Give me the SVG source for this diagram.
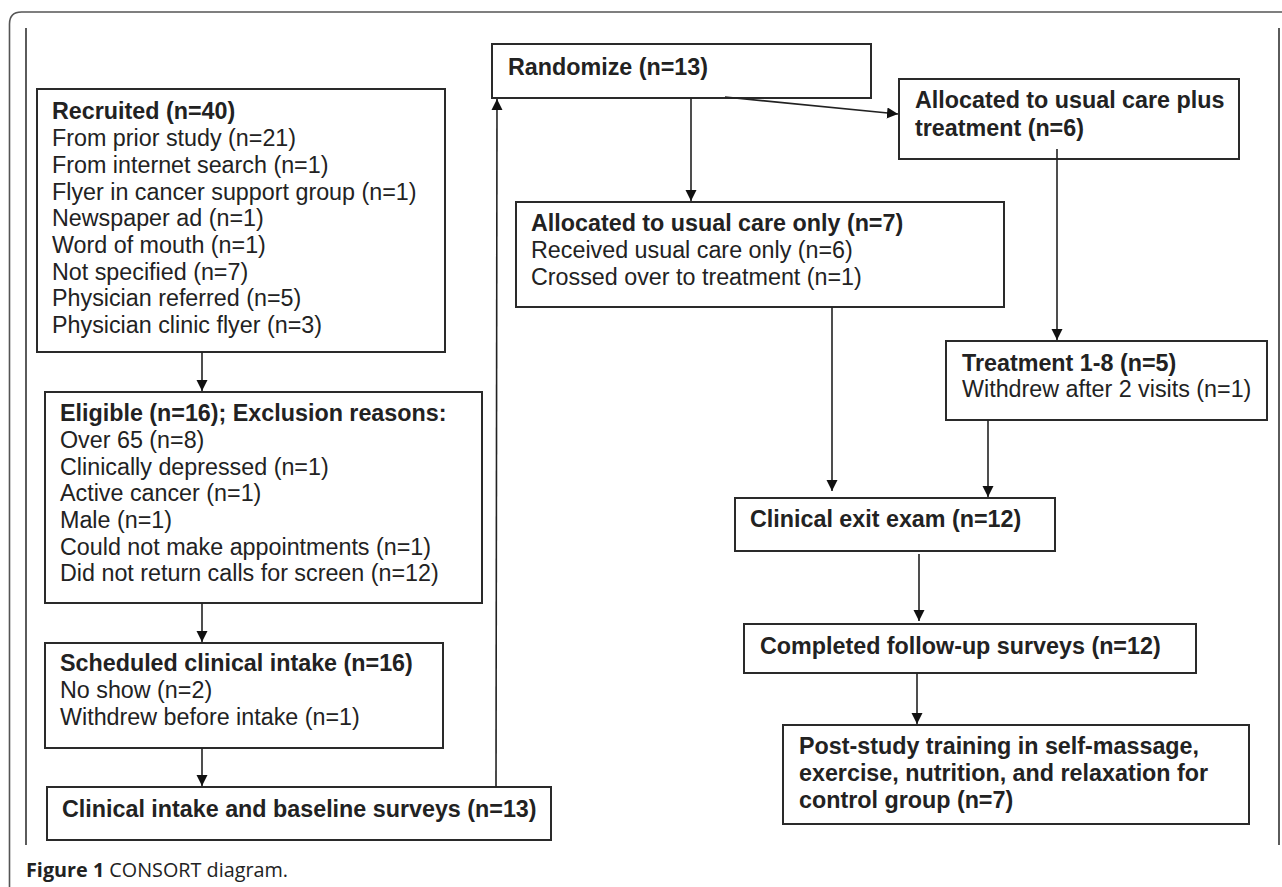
<svg xmlns="http://www.w3.org/2000/svg" width="1282" height="887" viewBox="0 0 1282 887">
<defs>
<style>
.box{fill:#fff;stroke:#2a2a2a;stroke-width:2}
.t{font-family:"Liberation Sans",Arial,sans-serif;font-size:23.3px;fill:#222}
.b{font-weight:bold}
.conn line{stroke:#222;stroke-width:1.6;fill:none}
.frame{fill:none;stroke:#555;stroke-width:1.6}
.cap{font-family:"Open Sans","Noto Sans",sans-serif;font-size:19.8px;fill:#222}
</style>
<marker id="ah" markerUnits="userSpaceOnUse" markerWidth="13" markerHeight="12" refX="11" refY="5.5" orient="auto">
<path d="M0,0 L11,5.5 L0,11 z" fill="#111"/>
</marker>
</defs>
<rect width="1282" height="887" fill="#fff"/>
<path class="frame" d="M9.5,887 L9.5,24 Q9.5,12 21.5,12 L1282,12"/>
<line x1="26" y1="28" x2="26" y2="845" stroke="#333" stroke-width="1.6"/>
<line x1="1279" y1="28" x2="1279" y2="845" stroke="#333" stroke-width="1.6"/>

<g id="recruited">
<rect class="box" x="37" y="89" width="408" height="263"/>
<text class="t b" x="52" y="119">Recruited (n=40)</text>
<text class="t" x="52" y="146">From prior study (n=21)</text>
<text class="t" x="52" y="172.5">From internet search (n=1)</text>
<text class="t" x="52" y="199.5">Flyer in cancer support group (n=1)</text>
<text class="t" x="52" y="226">Newspaper ad (n=1)</text>
<text class="t" x="52" y="253">Word of mouth (n=1)</text>
<text class="t" x="52" y="279.5">Not specified (n=7)</text>
<text class="t" x="52" y="306">Physician referred (n=5)</text>
<text class="t" x="52" y="333">Physician clinic flyer (n=3)</text>
</g>

<g id="eligible">
<rect class="box" x="45" y="392" width="437" height="211"/>
<text class="t b" x="60" y="421">Eligible (n=16); Exclusion reasons:</text>
<text class="t" x="60" y="448">Over 65 (n=8)</text>
<text class="t" x="60" y="474.5">Clinically depressed (n=1)</text>
<text class="t" x="60" y="501">Active cancer (n=1)</text>
<text class="t" x="60" y="528">Male (n=1)</text>
<text class="t" x="60" y="554.5">Could not make appointments (n=1)</text>
<text class="t" x="60" y="581">Did not return calls for screen (n=12)</text>
</g>

<g id="scheduled">
<rect class="box" x="45" y="643" width="398" height="105"/>
<text class="t b" x="60" y="671">Scheduled clinical intake (n=16)</text>
<text class="t" x="60" y="698">No show (n=2)</text>
<text class="t" x="60" y="725">Withdrew before intake (n=1)</text>
</g>

<g id="intake">
<rect class="box" x="47" y="787" width="504" height="53"/>
<text class="t b" x="62" y="817">Clinical intake and baseline surveys (n=13)</text>
</g>

<g id="randomize">
<rect class="box" x="492" y="44" width="379" height="54"/>
<text class="t b" x="508" y="75">Randomize (n=13)</text>
</g>

<g id="usual-only">
<rect class="box" x="516" y="202" width="488" height="105"/>
<text class="t b" x="531" y="231">Allocated to usual care only (n=7)</text>
<text class="t" x="531" y="258">Received usual care only (n=6)</text>
<text class="t" x="531" y="285">Crossed over to treatment (n=1)</text>
</g>

<g id="usual-plus">
<rect class="box" x="899" y="79" width="340" height="80"/>
<text class="t b" x="915" y="108">Allocated to usual care plus</text>
<text class="t b" x="915" y="136">treatment (n=6)</text>
</g>

<g id="treatment">
<rect class="box" x="946" y="341" width="321" height="79"/>
<text class="t b" x="962" y="371">Treatment 1-8 (n=5)</text>
<text class="t" x="962" y="397">Withdrew after 2 visits (n=1)</text>
</g>

<g id="exit">
<rect class="box" x="735" y="498" width="320" height="53"/>
<text class="t b" x="750" y="527">Clinical exit exam (n=12)</text>
</g>

<g id="completed">
<rect class="box" x="744" y="624" width="452" height="49"/>
<text class="t b" x="760" y="654">Completed follow-up surveys (n=12)</text>
</g>

<g id="poststudy">
<rect class="box" x="783" y="725" width="466" height="99"/>
<text class="t b" x="799" y="754">Post-study training in self-massage,</text>
<text class="t b" x="799" y="781">exercise, nutrition, and relaxation for</text>
<text class="t b" x="799" y="808">control group (n=7)</text>
</g>

<g id="connectors" class="conn">
<line x1="202" y1="352" x2="202" y2="391" marker-end="url(#ah)"/>
<line x1="202" y1="603" x2="202" y2="642" marker-end="url(#ah)"/>
<line x1="202" y1="748" x2="202" y2="786" marker-end="url(#ah)"/>
<line x1="496" y1="787" x2="497" y2="99" marker-end="url(#ah)"/>
<line x1="691" y1="98" x2="691" y2="201" marker-end="url(#ah)"/>
<line x1="725" y1="97" x2="898" y2="114" marker-end="url(#ah)"/>
<line x1="1057" y1="149" x2="1057" y2="340" marker-end="url(#ah)"/>
<line x1="832" y1="307" x2="832" y2="491" marker-end="url(#ah)"/>
<line x1="988" y1="420" x2="988" y2="497" marker-end="url(#ah)"/>
<line x1="919" y1="554" x2="919" y2="621" marker-end="url(#ah)"/>
<line x1="917" y1="673" x2="917" y2="724" marker-end="url(#ah)"/>
</g>

<g id="caption">
<text class="cap" x="26" y="877"><tspan font-weight="bold">Figure 1</tspan> CONSORT diagram.</text>
</g>
</svg>
